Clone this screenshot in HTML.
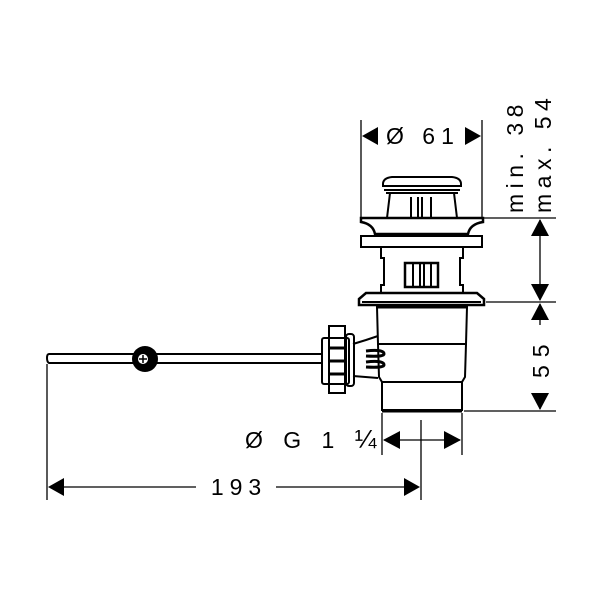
<!DOCTYPE html>
<html><head><meta charset="utf-8"><style>body{margin:0;background:#fff}svg{display:block}</style></head><body>
<svg width="600" height="600" viewBox="0 0 600 600" xmlns="http://www.w3.org/2000/svg">
<rect width="600" height="600" fill="#fff"/>
<g fill="none" stroke="#000" stroke-width="2">
<path d="M383 184 Q383 178 392 177 L452 177 Q461 178 461 184 L461 186 L383 186 Z"/>
<line x1="384" y1="190" x2="460" y2="190"/>
<line x1="386" y1="193" x2="458" y2="193"/>
<path d="M390 193 L387 218 M454 193 L457 218"/>
<path d="M411 197 V218 M418 197 V218 M422 197 V218 M431 197 V218"/>
<path d="M361 218 H483 V222 Q470 224 468 234 H375 Q373 224 361 222 Z" stroke-width="2.5"/>
<rect x="361" y="236" width="121" height="11"/>
<path d="M381 247 V258 H384 V285 H381 V293 M463 247 V258 H460 V285 H463 V293"/>
<rect x="405" y="263" width="33" height="24" stroke-width="2.5"/>
<path d="M413 263 V287 M420 263 V287 M424 263 V287 M431 263 V287"/>
<path d="M366 293 H477 L484 299 V305 H359 V299 Z" stroke-width="2.5"/>
<line x1="362" y1="302" x2="481" y2="302"/>
<line x1="376" y1="307" x2="468" y2="307" stroke-width="3"/>
<path d="M377 307 L378 344 H466 L467 307"/>
<path d="M378 344 L379 377 L382 382 H462 L465 377 L466 344"/>
<path d="M382 382 V410 H462 V382"/>
<line x1="382" y1="411" x2="462" y2="411" stroke-width="3"/>
<path d="M353 344 L366 340 L378 336 M353 376 L378 378"/>
<path d="M366 351 Q384 349 384 354 Q384 357 366 356 M366 362 Q384 360 384 365 Q384 368 366 367" stroke-width="3"/>
<rect x="322" y="338" width="27" height="46" rx="2"/>
<rect x="329" y="326" width="16" height="67"/>
<rect x="346" y="334" width="8" height="52" rx="3"/>
<path d="M330 348 H344 M330 361 H344 M330 374 H344" stroke-width="3"/>
<path d="M322 354 H49 Q47 354 47 358 Q47 362 49 363 H322"/>
</g>
<circle cx="145" cy="359" r="13" fill="#000"/>
<circle cx="143" cy="359" r="5" fill="#fff"/>
<path d="M143 355 V363 M139 359 H147" stroke="#000" stroke-width="1.5"/>
<g stroke="#000" stroke-width="1.3" fill="none">
<path d="M361 120 V217 M482 120 V217"/>
<path d="M484 218 H556 M486 302 H556 M464 411 H556"/>
<path d="M540 220 V300 M540 304 V325 M540 396 V409"/>
<path d="M382 413 V455 M462 413 V455 M421 420 V500 M47 364 V500"/>
<path d="M384 440 H460"/>
<path d="M60 487 H196 M276 487 H410"/>
</g>
<g fill="#000">
<path d="M362 136 L378 127 V145 Z"/><path d="M481 136 L465 127 V145 Z"/>
<path d="M540 219 L531 236 H549 Z"/><path d="M540 301 L531 284 H549 Z"/>
<path d="M540 303 L531 320 H549 Z"/><path d="M540 410 L531 393 H549 Z"/>
<path d="M383 440 L400 431 V449 Z"/><path d="M461 440 L444 431 V449 Z"/>
<path d="M48 487 L64 478 V496 Z"/><path d="M420 487 L404 478 V496 Z"/>
</g>
<g font-family="Liberation Sans, sans-serif" font-size="23" fill="#000">
<text x="386" y="144" letter-spacing="6">Ø 61</text>
<text x="239" y="495" text-anchor="middle" letter-spacing="6">193</text>
<text x="245" y="448" letter-spacing="7">Ø G 1 <tspan font-size="26">¼</tspan></text>
<text transform="translate(523,213) rotate(-90)" letter-spacing="5.5">min. 38</text>
<text transform="translate(551,213) rotate(-90)" letter-spacing="5.5">max. 54</text>
<text transform="translate(549,378) rotate(-90)" letter-spacing="8">55</text>
</g>
</svg>
</body></html>
